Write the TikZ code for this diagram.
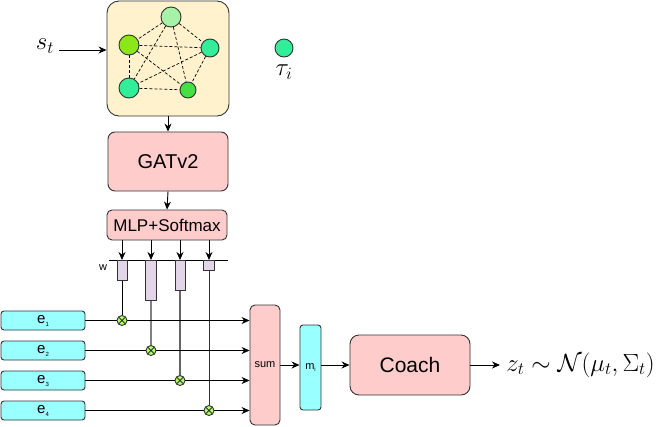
\documentclass[tikz,border=0pt]{standalone}
\usepackage{fontspec}
\setmainfont{Liberation Sans}
\usetikzlibrary{arrows.meta,calc}
\definecolor{gboxfill}{HTML}{FFF2CC}
\definecolor{pinkfill}{HTML}{FFCCCC}
\definecolor{cyanfill}{HTML}{99FFFF}
\definecolor{barfill}{HTML}{E1D5E7}
\definecolor{multfill}{HTML}{B3FF66}
\definecolor{gA}{HTML}{A6F2A6}
\definecolor{gB}{HTML}{8CE61A}
\definecolor{gC}{HTML}{33EE99}
\definecolor{gD}{HTML}{44E044}
\definecolor{edgegray}{HTML}{333333}
\begin{document}
\begin{tikzpicture}[x=1pt,y=-1pt,
  line width=0.9pt,
  arr/.style={-{Stealth[length=8pt,width=7pt]}},
  blockbox/.style={draw=edgegray,fill=pinkfill,rounded corners=7pt,inner sep=0pt,font=\fontsize{20}{24}\selectfont},
  cyanbox/.style={draw=edgegray,fill=cyanfill,rounded corners=3pt,inner sep=0pt},
  barbox/.style={draw=edgegray,fill=barfill,inner sep=0pt,anchor=north},
  gnode/.style={circle,draw=edgegray,inner sep=0pt},
  multnode/.style={circle,draw=edgegray,fill=multfill,minimum size=10pt,inner sep=0pt,
    path picture={\draw[line width=0.8pt] (path picture bounding box.north west) -- (path picture bounding box.south east)
      (path picture bounding box.north east) -- (path picture bounding box.south west);}},
  mathlabel/.style={inner sep=0pt,font=\fontsize{25}{30}\selectfont}
]
\useasboundingbox (0,0) rectangle (658,426);

% graph box
\node[draw=edgegray,fill=gboxfill,rounded corners=12pt,minimum width=122pt,minimum height=115pt,inner sep=0pt] (gbox) at (168,58.5) {};
\node[gnode,fill=gA,minimum size=20pt] (n1) at (171,17) {};
\node[gnode,fill=gB,minimum size=20pt] (n2) at (129,45) {};
\node[gnode,fill=gC,minimum size=18pt] (n3) at (210,48) {};
\node[gnode,fill=gC,minimum size=20pt] (n4) at (129,88) {};
\node[gnode,fill=gD,minimum size=16pt] (n5) at (188,90) {};
\foreach \a/\b in {n1/n2,n1/n3,n1/n4,n1/n5,n2/n3,n2/n4,n2/n5,n3/n4,n3/n5,n4/n5}
  \draw[line width=0.7pt,dash pattern=on 3pt off 2pt] (\a) -- (\b);

% s_t
\node[mathlabel] (st) at (45,46) {$s_t$};
\coordinate (stout) at (59,50);
\draw[arr] (stout) -- (stout -| gbox.west);

% tau_i
\node[gnode,fill=gC,minimum size=18pt] (tau) at (284,48) {};
\node[mathlabel] (taulabel) at (284,72) {$\tau_i$};

% GATv2
\node[blockbox,minimum width=120pt,minimum height=59pt] (gat) at (168,161.5) {GATv2};
\draw[arr] (gbox.south) -- (gat.north);

% MLP
\node[blockbox,rounded corners=5pt,minimum width=120pt,minimum height=30pt,font=\fontsize{17}{20}\selectfont] (mlp) at (167,225) {MLP+Softmax};
\draw[arr] (gat.south) -- (mlp.north);

% bar line
\coordinate (bl) at (109,260);
\coordinate (br) at (228,260);
\draw (bl) -- (br);
\node[inner sep=0pt,font=\fontsize{11}{12}\selectfont] (wlab) at (103,268) {w};

\node[barbox,minimum width=10pt,minimum height=20pt] (b1) at (122,260) {};
\node[barbox,minimum width=11pt,minimum height=40pt,line width=1.2pt] (b2) at (151,260) {};
\node[barbox,minimum width=10pt,minimum height=30pt] (b3) at (180,260) {};
\node[barbox,minimum width=11pt,minimum height=10pt] (b4) at (209,260) {};
\foreach \b in {b1,b2,b3,b4}
  \draw[arr] (\b.north |- mlp.south) -- (\b.north);

% e boxes
\foreach \i/\y in {1/320.5,2/350.5,3/380.5,4/410.5}
  \node[cyanbox,minimum width=84pt,minimum height=19pt] (e\i) at (43,\y) {\fontsize{15}{17}\selectfont e\raisebox{-3pt}{\fontsize{6}{7}\selectfont \i}};

% sum
\node[draw=edgegray,fill=pinkfill,rounded corners=5pt,minimum width=30pt,minimum height=120pt,inner sep=0pt,font=\fontsize{11}{13}\selectfont] (sum) at (265,365) {sum};

% multiplication nodes
\node[multnode] (x1) at (122,320.5) {};
\node[multnode] (x2) at (151,350.5) {};
\node[multnode] (x3) at (180,380.5) {};
\node[multnode] (x4) at (209,410.5) {};

\draw (b1.south) -- (x1.north);
\draw[gray,line width=1.4pt] (b2.south) -- (x2.north);
\draw[gray!80!black,line width=1.1pt] (b3.south) -- (x3.north);
\draw[black!80] (b4.south) -- (x4.north);

\foreach \i in {1,2,3,4}{
  \draw (e\i.east) -- (x\i.west);
  \draw[arr] (x\i.east) -- (x\i.east -| sum.west);
}

% m_i
\node[cyanbox,minimum width=21pt,minimum height=85pt,font=\fontsize{11}{13}\selectfont] (m) at (310.5,367.5) {m\raisebox{-2.5pt}{\fontsize{6}{7}\selectfont i}};
\draw[arr] (sum.east |- 0,365) -- (m.west |- 0,365);

% Coach
\node[blockbox,rounded corners=9pt,minimum width=120pt,minimum height=60pt,font=\fontsize{21}{25}\selectfont] (coach) at (410,365) {Coach};
\draw[arr] (m.east |- coach.west) -- (coach.west);

% output
\node[mathlabel,anchor=west,font=\fontsize{24}{28}\selectfont] (z) at (506,365) {$z_t \sim \mathcal{N}(\mu_t,\Sigma_t)$};
\draw[arr] (coach.east) -- ($(z.west)+(-6,0)$);
\end{tikzpicture}
\end{document}
